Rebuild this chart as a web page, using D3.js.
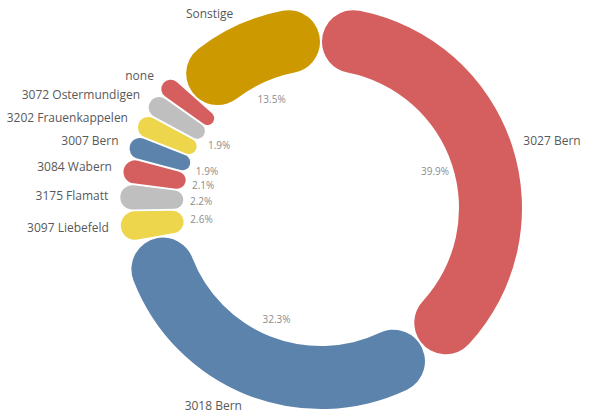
<!DOCTYPE html>
<html>
<head>
<meta charset="utf-8">
<script src="https://cdn.jsdelivr.net/npm/d3@7"></script>
<style>
  html, body { margin: 0; padding: 0; background: #ffffff; }
  svg { display: block; }
</style>
</head>
<body>
<svg id="chart" width="594" height="413"></svg>
<script>
// Share of records per postal code (percent), clockwise from the top
const categories = [
  "3027 Bern", "3018 Bern", "3097 Liebefeld", "3175 Flamatt", "3084 Wabern",
  "3007 Bern", "3202 Frauenkappelen", "3072 Ostermundigen", "none", "Sonstige"
];
const shares = [39.9, 32.3, 2.6, 2.2, 2.1, 1.9, 1.9, 1.9, 1.7, 13.5];
const palette = ["#d45f5e", "#5b83ab", "#edd54c", "#bfbfbf"];
const otherColor = "#cc9a00";

const data = categories.map((c, i) => ({ name: c, value: shares[i] }));

const svg = d3.select("#chart");
const cx = 321, cy = 208;
const outerR = 201, innerR = 138;

const g = svg.append("g").attr("transform", `translate(${cx},${cy})`);

const pie = d3.pie().value(d => d.value).sort(null);
const arcs = pie(data);

const arc = d3.arc()
  .innerRadius(innerR)
  .outerRadius(outerR)
  .cornerRadius((outerR - innerR) / 2)
  .padAngle(0.008);

const color = (d, i) => d.data.name === "Sonstige" ? otherColor : palette[i % palette.length];

g.selectAll("path.slice")
  .data(arcs)
  .join("path")
  .attr("class", "slice")
  .attr("d", arc)
  .attr("fill", color);

// category labels just outside the ring
const labelArc = d3.arc().innerRadius(213).outerRadius(213);
g.selectAll("text.cat")
  .data(arcs)
  .join("text")
  .attr("class", "cat")
  .attr("transform", d => `translate(${labelArc.centroid(d)})`)
  .attr("text-anchor", d => ((d.startAngle + d.endAngle) / 2) < Math.PI ? "start" : "end")
  .attr("dy", "-0.05em")
  .attr("dominant-baseline", "central")
  .style("font-family", "'Open Sans', sans-serif")
  .style("font-size", "12px")
  .attr("fill", "#595959")
  .text(d => d.data.name);

// percentage labels inside the hole; skip ones that would collide
const pctArc = d3.arc().innerRadius(120).outerRadius(120);
const fmt = v => v.toFixed(1) + "%";
const placed = [];
const pctLabels = arcs.filter(d => {
  const [x, y] = pctArc.centroid(d);
  const hit = placed.some(p => Math.abs(p[1] - y) < 14 && Math.abs(p[0] - x) < 26);
  if (!hit) placed.push([x, y]);
  return !hit;
});

g.selectAll("text.pct")
  .data(pctLabels)
  .join("text")
  .attr("class", "pct")
  .attr("transform", d => `translate(${pctArc.centroid(d)})`)
  .attr("text-anchor", "middle")
  .attr("dominant-baseline", "central")
  .style("font-family", "'Open Sans', sans-serif")
  .style("font-size", "10px")
  .attr("fill", "#8c8c8c")
  .text(d => fmt(d.data.value));
</script>
</body>
</html>
